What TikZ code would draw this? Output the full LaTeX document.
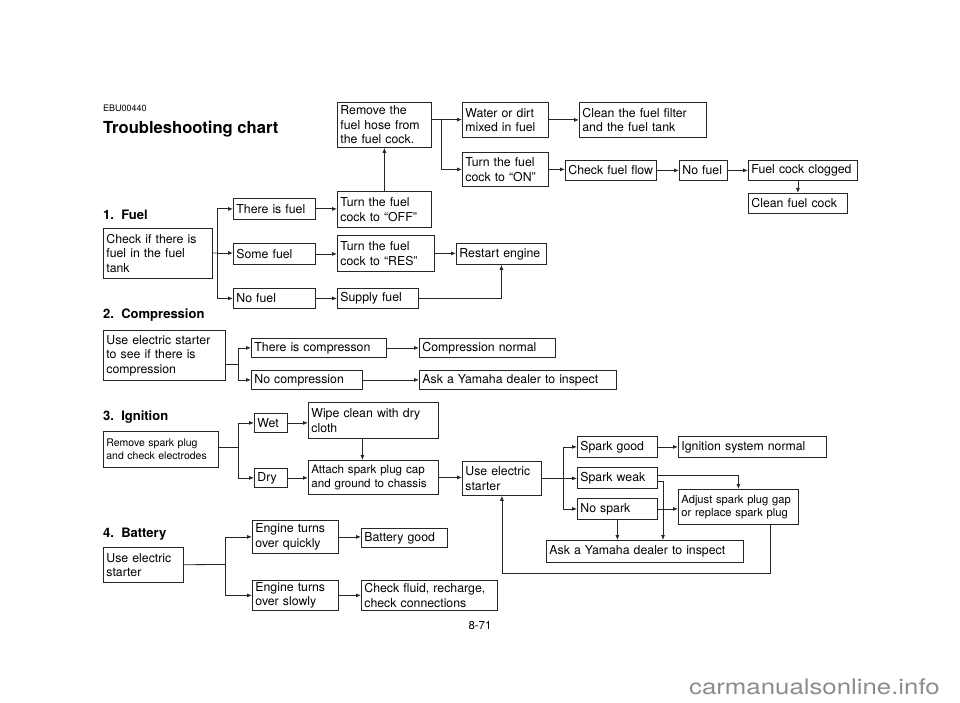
\documentclass[tikz,border=0pt]{standalone}
\usepackage{fontspec}
\setmainfont{TeX Gyre Heros}
\newfontfamily\markfont[FakeStretch=1.2]{TeX Gyre Heros}
\usepackage{tikz}
\usetikzlibrary{arrows.meta, positioning}
\tikzstyle{box}   = [draw=black!85, line width=0.8pt, anchor=north west, align=left, inner xsep=3pt, inner ysep=1pt, font=\fontsize{12.3}{14.5}\selectfont]
\tikzstyle{sbox}  = [box, font=\fontsize{10.5}{12.5}\selectfont]
\tikzstyle{arrow} = [line width=0.8pt, draw=black!85, -{Latex[length=5pt,width=4pt]}]
\tikzstyle{line}  = [line width=0.8pt, draw=black!85]
\tikzstyle{head}  = [anchor=west, inner sep=0pt, font=\fontsize{13}{15}\selectfont\bfseries]

\begin{document}
\begin{tikzpicture}[x=1pt, y=-1pt]
  \useasboundingbox (0,0) rectangle (960,703);
  % Title
  \node[anchor=west, inner sep=0pt, font=\fontsize{9}{10}\selectfont] (code) at (103,108) {EBU00440};
  \node[anchor=west, inner sep=0pt, font=\fontsize{16.6}{19}\selectfont\bfseries] (title) at (103,129) {Troubleshooting chart};

  % 1. Fuel
  \node[head] (fuel) at (103,215) {1.\ \ Fuel};
  \node[box, text width=103pt, minimum height=50pt] (check) at (103,228) {Check if there is\\fuel in the fuel\\tank};
  \node[box, text width=76pt, minimum height=21pt] (thefuel) at (233,198) {There is fuel};
  \node[box, text width=76pt, minimum height=21pt] (somefuel) at (233,243) {Some fuel};
  \node[box, text width=76pt, minimum height=20pt] (nofuel) at (233,288) {No fuel};
  \node[box, text width=88pt, minimum height=36pt] (turnoff) at (337,191) {Turn the fuel\\cock to “OFF”};
  \node[box, text width=91pt, minimum height=36pt] (turnres) at (337,235) {Turn the fuel\\cock to “RES”};
  \node[box, text width=75pt, minimum height=20pt] (supply) at (337,288) {Supply fuel};
  \node[box, text width=84pt, minimum height=21pt] (restart) at (456,243) {Restart engine};
  \node[box, text width=88pt, minimum height=45pt] (rmhose) at (337,102) {Remove the\\fuel hose from\\the fuel cock.};
  \node[box, text width=80pt, minimum height=35pt] (water) at (462,102) {Water or dirt\\mixed in fuel};
  \node[box, text width=121pt, minimum height=35pt] (cleanfilter) at (579,102) {Clean the fuel filter\\and the fuel tank};
  \node[box, text width=80pt, minimum height=34pt] (turnon) at (462,152) {Turn the fuel\\cock to “ON”};
  \node[box, text width=85pt, minimum height=20pt] (flow) at (565,160) {Check fuel flow};
  \node[box, text width=42pt, minimum height=20pt] (nofuelb) at (679,160) {No fuel};
  \node[box, text width=103pt, minimum height=20pt] (clogged) at (748,160) {Fuel cock clogged};
  \node[box, text width=93pt, minimum height=20pt] (cleancock) at (748,193) {Clean fuel cock};

  \coordinate (fb) at (217,253);
  \draw[line] (check) -- (fb);
  \draw[arrow] (fb) |- (thefuel);
  \draw[arrow] (fb) -- (fb -| somefuel.west);
  \draw[arrow] (fb) |- (nofuel);
  \draw[arrow] (thefuel) -- (thefuel -| turnoff.west);
  \draw[arrow] (somefuel) -- (somefuel -| turnres.west);
  \draw[arrow] (nofuel) -- (supply);
  \draw[arrow] (turnoff) -- (rmhose);
  \draw[arrow] (turnres) -- (turnres -| restart.west);
  \draw[arrow] (supply) -| (restart);
  \coordinate (rb) at (441,119.5);
  \draw[line] (rmhose.east |- rb) -- (rb);
  \draw[arrow] (rb) -- (water);
  \draw[arrow] (rb) |- (turnon);
  \draw[arrow] (water) -- (cleanfilter);
  \draw[arrow] (turnon) -- (turnon -| flow.west);
  \draw[arrow] (flow) -- (nofuelb);
  \draw[arrow] (nofuelb) -- (clogged);
  \draw[arrow] (clogged.south -| cleancock) -- (cleancock);

  % 2. Compression
  \node[head] (compr) at (103,315) {2.\ \ Compression};
  \node[box, text width=116pt, minimum height=50pt] (comp) at (103,330) {Use electric starter\\to see if there is\\compression};
  \node[box, text width=129pt, minimum height=19pt] (iscomp) at (251,338) {There is compresson};
  \node[box, text width=130pt, minimum height=19pt] (compnorm) at (419,338) {Compression normal};
  \node[box, text width=105pt, minimum height=19pt] (nocomp) at (251,370) {No compression};
  \node[box, text width=191pt, minimum height=19pt] (askcomp) at (419,370) {Ask a Yamaha dealer to inspect};

  \coordinate (cb) at (238,364);
  \draw[line] (comp.east |- cb) -- (cb);
  \draw[arrow] (cb) |- (iscomp);
  \draw[arrow] (cb) |- (nocomp);
  \draw[arrow] (iscomp) -- (compnorm);
  \draw[arrow] (nocomp) -- (askcomp);

  % 3. Ignition
  \node[head] (ign) at (103,417) {3.\ \ Ignition};
  \node[sbox, text width=109pt, minimum height=36pt] (spark) at (103,431) {Remove spark plug\\and check electrodes};
  \node[box, text width=27pt, minimum height=19pt] (wet) at (254,413) {Wet};
  \node[box, text width=124pt, minimum height=36pt] (wipe) at (308,402) {Wipe clean with dry\\cloth};
  \node[box, text width=27pt, minimum height=19pt] (dry) at (254,468) {Dry};
  \node[sbox, font=\fontsize{11.6}{14}\selectfont, text width=124pt, minimum height=34pt] (attach) at (308,460) {Attach spark plug cap\\and ground to chassis};
  \node[box, text width=73pt, minimum height=34pt] (starter) at (462,461) {Use electric\\starter};
  \node[box, text width=74pt, minimum height=21pt] (good) at (577,436) {Spark good};
  \node[box, text width=142pt, minimum height=21pt] (ignnorm) at (678,436) {Ignition system normal};
  \node[box, text width=74pt, minimum height=21pt] (weak) at (577,467) {Spark weak};
  \node[box, text width=74pt, minimum height=21pt] (nospark) at (577,498) {No spark};
  \node[sbox, font=\fontsize{11.2}{13.5}\selectfont, text width=114pt, minimum height=35pt] (adjust) at (678,489) {Adjust spark plug gap\\or replace spark plug};
  \node[box, text width=191pt, minimum height=22pt] (askign) at (546,540) {Ask a Yamaha dealer to inspect};

  \coordinate (ib) at (238,447);
  \draw[line] (spark.east |- ib) -- (ib);
  \draw[arrow] (ib) |- (wet);
  \draw[arrow] (ib) |- (dry);
  \draw[arrow] (wet) -- (wet -| wipe.west);
  \draw[arrow] (dry) -- (dry -| attach.west);
  \draw[arrow] ([xshift=-11pt]wipe.south) -- ([xshift=-11pt]wipe.south |- attach.north);
  \draw[arrow] (attach) -- (attach -| starter.west);
  \coordinate (sb) at (563,477.5);
  \draw[arrow] (starter) -- (starter -| weak.west);
  \draw[arrow] (sb) |- (good);
  \draw[arrow] (sb) |- (nospark);
  \draw[arrow] (good) -- (ignnorm);
  \draw[arrow] ([yshift=3pt]weak.east) -| (adjust);
  \coordinate (wa) at (663,540);
  \draw[arrow] ([yshift=-3pt]weak.east) -| (wa);
  \draw[arrow] (nospark) -- (nospark -| adjust.west);
  \draw[arrow] (nospark.south) -- (nospark.south |- askign.north);
  \coordinate (lp) at (770,573);
  \draw[arrow] (adjust.south -| lp) |- (starter.south |- lp) -- (starter.south);

  % 4. Battery
  \node[head] (batt) at (103,534) {4.\ \ Battery};
  \node[box, text width=74pt, minimum height=35pt] (bat) at (103,547) {Use electric\\starter};
  \node[box, text width=80pt, minimum height=33pt] (quick) at (252,520) {Engine turns\\over quickly};
  \node[box, text width=80pt, minimum height=19pt] (batgood) at (361,528) {Battery good};
  \node[box, text width=80pt, minimum height=30pt] (slow) at (252,580) {Engine turns\\over slowly};
  \node[box, text width=130pt, minimum height=30pt] (fluid) at (361,580) {Check fluid, recharge,\\check connections};

  \coordinate (bb) at (225,564.5);
  \draw[line] (bat) -- (bb);
  \draw[arrow] (bb) |- (quick);
  \draw[arrow] (bb) |- (slow);
  \draw[arrow] (quick) -- (quick -| batgood.west);
  \draw[arrow] (slow) -- (fluid);

  % Page number
  \node[inner sep=0pt, font=\fontsize{11.5}{13}\selectfont] (page) at (480,626) {8-71};
  \node[anchor=base east, inner sep=0pt, text=black!45, font=\markfont\fontsize{21.5}{24}\selectfont] (mark) at (940,694) {carmanualsonline.info};
\end{tikzpicture}
\end{document}
